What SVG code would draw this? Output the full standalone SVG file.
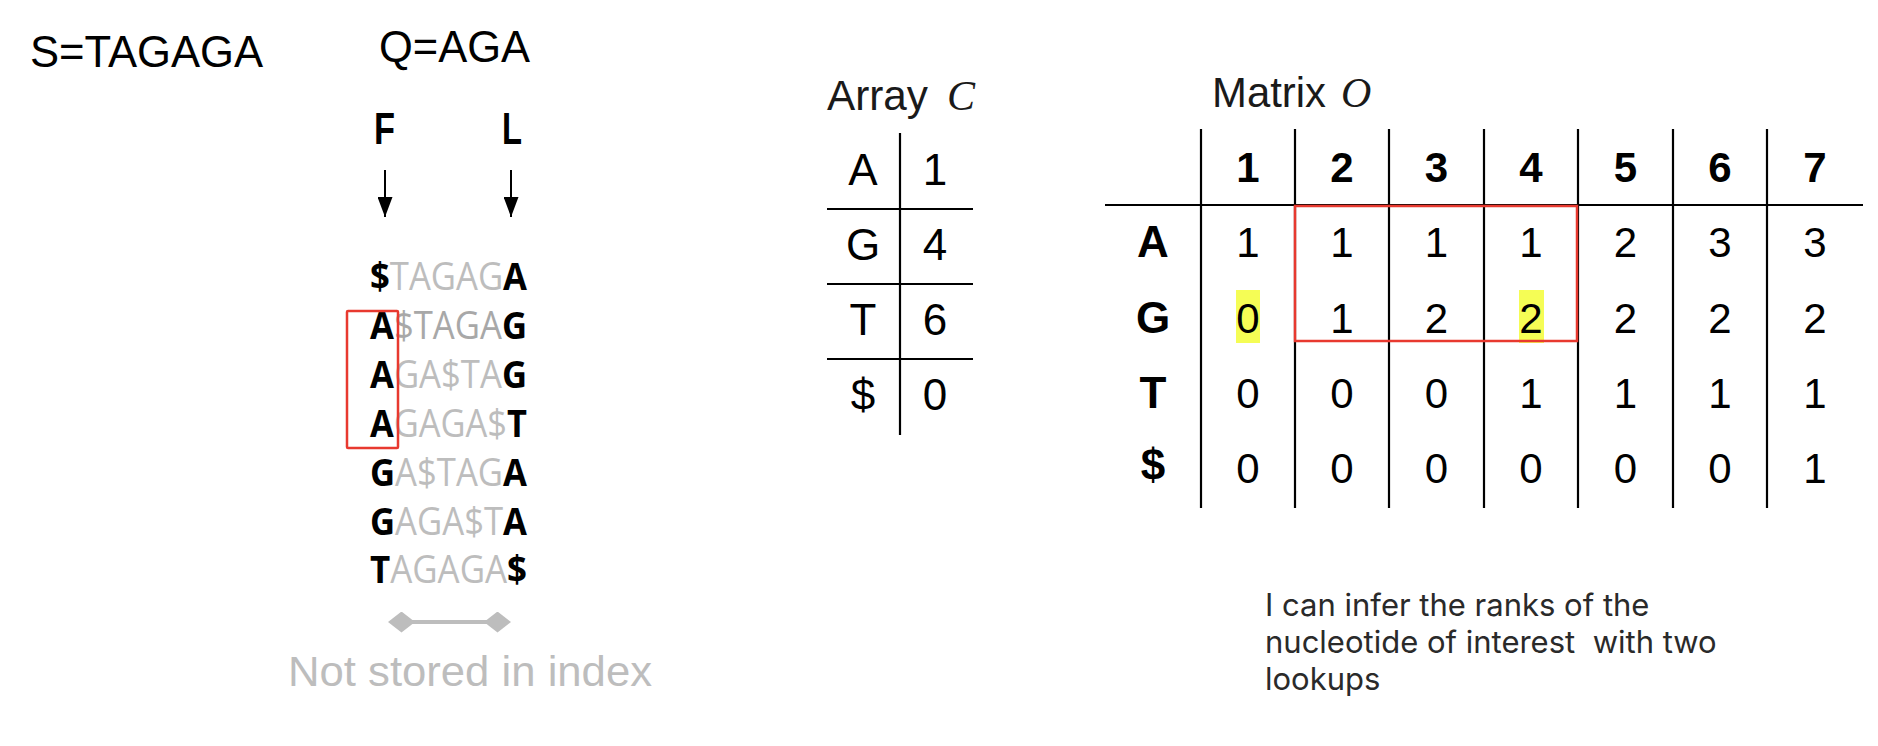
<svg xmlns="http://www.w3.org/2000/svg" width="1878" height="746" viewBox="0 0 1878 746">
<style>
.sans{font-family:"Liberation Sans",Arial,sans-serif;fill:#000}
.big{font-size:44px}
.bold{font-weight:bold}
.bwt{font-family:"Open Sans","Noto Sans",sans-serif;font-size:38px}
.bk{font-weight:bold;fill:#000}
.gr{fill:#bdbdbd}
.gr2{fill:#a8a8a8}
.cell{font-family:"Liberation Sans",Arial,sans-serif;font-size:42px;text-anchor:middle;fill:#000}
.hdr{font-family:"Liberation Sans",Arial,sans-serif;font-size:42px;font-weight:bold;text-anchor:middle;fill:#000}
.rlab{font-family:"Liberation Sans",Arial,sans-serif;font-size:44px;font-weight:bold;text-anchor:middle;fill:#000}
.ac{font-family:"Liberation Sans",Arial,sans-serif;font-size:44px;text-anchor:middle;fill:#000}
.title{font-family:"Liberation Sans",Arial,sans-serif;font-size:42px;fill:#1a1a1a}
.math{font-family:"Liberation Serif",serif;font-style:italic;font-size:42px;fill:#1a1a1a}
.grid{stroke:#000;stroke-width:2.2;fill:none}
.red{stroke:#e8392f;stroke-width:2.5;fill:none}
.hl{fill:#f5fd55}
.note{font-family:Inter,"Noto Sans",sans-serif;font-size:31px;fill:#2a2a2a;white-space:pre}
</style>
<defs>
<marker id="ah" viewBox="0 0 20 15" refX="20" refY="7.5" markerWidth="20" markerHeight="15" markerUnits="userSpaceOnUse" orient="auto">
<path d="M0,0 L20,7.5 L0,15 Z" fill="#000"/>
</marker>
<marker id="dm" viewBox="0 0 27 21" refX="13.5" refY="10.5" markerWidth="27" markerHeight="21" markerUnits="userSpaceOnUse" orient="auto">
<path d="M0,10.5 L13.5,0 L27,10.5 L13.5,21 Z" fill="#bdbdbd"/>
</marker>
</defs>
<rect width="1878" height="746" fill="#fff"/>

<g id="title-s"><text class="sans big" x="30" y="67" textLength="233" lengthAdjust="spacingAndGlyphs">S=TAGAGA</text></g>
<g id="title-q"><text class="sans big" x="379" y="62" textLength="151" lengthAdjust="spacingAndGlyphs">Q=AGA</text></g>
<g id="label-f"><text class="sans big bold" x="374" y="144" textLength="21" lengthAdjust="spacingAndGlyphs">F</text></g>
<g id="label-l"><text class="sans big bold" x="502" y="144" textLength="20" lengthAdjust="spacingAndGlyphs">L</text></g>

<g id="bwt-matrix">
<text class="bwt" x="370" y="290" textLength="157" lengthAdjust="spacingAndGlyphs"><tspan class="bk">$</tspan><tspan class="gr">TAGAG</tspan><tspan class="bk">A</tspan></text>
<text class="bwt" x="370" y="339" textLength="157" lengthAdjust="spacingAndGlyphs"><tspan class="bk">A</tspan><tspan class="gr2">$TAGA</tspan><tspan class="bk">G</tspan></text>
<text class="bwt" x="370" y="388" textLength="157" lengthAdjust="spacingAndGlyphs"><tspan class="bk">A</tspan><tspan class="gr">GA$TA</tspan><tspan class="bk">G</tspan></text>
<text class="bwt" x="370" y="437" textLength="157" lengthAdjust="spacingAndGlyphs"><tspan class="bk">A</tspan><tspan class="gr">GAGA$</tspan><tspan class="bk">T</tspan></text>
<text class="bwt" x="370" y="486" textLength="157" lengthAdjust="spacingAndGlyphs"><tspan class="bk">G</tspan><tspan class="gr">A$TAG</tspan><tspan class="bk">A</tspan></text>
<text class="bwt" x="370" y="535" textLength="157" lengthAdjust="spacingAndGlyphs"><tspan class="bk">G</tspan><tspan class="gr">AGA$T</tspan><tspan class="bk">A</tspan></text>
<text class="bwt" x="370" y="583" textLength="157" lengthAdjust="spacingAndGlyphs"><tspan class="bk">T</tspan><tspan class="gr">AGAGA</tspan><tspan class="bk">$</tspan></text>
<rect class="red" x="347" y="311" width="51" height="137" rx="1"/>
</g>

<g id="not-stored"><text class="sans" x="288" y="686" font-size="43" style="fill:#bdbdbd" textLength="364" lengthAdjust="spacingAndGlyphs">Not stored in index</text></g>

<g id="connectors">
<line x1="385" y1="170" x2="385" y2="217" stroke="#000" stroke-width="2" marker-end="url(#ah)"/>
<line x1="511" y1="170" x2="511" y2="217" stroke="#000" stroke-width="2" marker-end="url(#ah)"/>
<line x1="401.5" y1="622" x2="497.5" y2="622" stroke="#bdbdbd" stroke-width="4" marker-start="url(#dm)" marker-end="url(#dm)"/>
</g>

<g id="array-c">
<text class="title" x="827" y="110" textLength="101" lengthAdjust="spacingAndGlyphs">Array</text>
<text class="math" x="947" y="110">C</text>
<line class="grid" x1="900" y1="133" x2="900" y2="435"/>
<line class="grid" x1="827" y1="209" x2="973" y2="209"/>
<line class="grid" x1="827" y1="284" x2="973" y2="284"/>
<line class="grid" x1="827" y1="359" x2="973" y2="359"/>
<text class="ac" x="863" y="185">A</text><text class="ac" x="935" y="185">1</text>
<text class="ac" x="863" y="260">G</text><text class="ac" x="935" y="260">4</text>
<text class="ac" x="863" y="335">T</text><text class="ac" x="935" y="335">6</text>
<text class="ac" x="863" y="410">$</text><text class="ac" x="935" y="410">0</text>
</g>

<g id="matrix-o">
<text class="title" x="1212" y="107" textLength="114" lengthAdjust="spacingAndGlyphs">Matrix</text>
<text class="math" x="1341" y="107">O</text>
<rect class="hl" x="1236" y="290" width="24" height="53"/>
<rect class="hl" x="1519" y="290" width="25" height="53"/>
<line class="grid" x1="1105" y1="205" x2="1863" y2="205"/>
<line class="grid" x1="1201" y1="129" x2="1201" y2="508"/>
<line class="grid" x1="1295" y1="129" x2="1295" y2="508"/>
<line class="grid" x1="1389" y1="129" x2="1389" y2="508"/>
<line class="grid" x1="1484" y1="129" x2="1484" y2="508"/>
<line class="grid" x1="1578" y1="129" x2="1578" y2="508"/>
<line class="grid" x1="1673" y1="129" x2="1673" y2="508"/>
<line class="grid" x1="1767" y1="129" x2="1767" y2="508"/>
<text class="hdr" x="1248" y="182">1</text>
<text class="hdr" x="1342" y="182">2</text>
<text class="hdr" x="1436.5" y="182">3</text>
<text class="hdr" x="1531" y="182">4</text>
<text class="hdr" x="1625.5" y="182">5</text>
<text class="hdr" x="1720" y="182">6</text>
<text class="hdr" x="1815" y="182">7</text>
<text class="rlab" x="1153" y="257">A</text>
<text class="rlab" x="1153" y="333">G</text>
<text class="rlab" x="1153" y="408">T</text>
<text class="rlab" x="1153" y="480">$</text>
<text class="cell" x="1248" y="257">1</text>
<text class="cell" x="1342" y="257">1</text>
<text class="cell" x="1436.5" y="257">1</text>
<text class="cell" x="1531" y="257">1</text>
<text class="cell" x="1625.5" y="257">2</text>
<text class="cell" x="1720" y="257">3</text>
<text class="cell" x="1815" y="257">3</text>
<text class="cell" x="1248" y="333">0</text>
<text class="cell" x="1342" y="333">1</text>
<text class="cell" x="1436.5" y="333">2</text>
<text class="cell" x="1531" y="333">2</text>
<text class="cell" x="1625.5" y="333">2</text>
<text class="cell" x="1720" y="333">2</text>
<text class="cell" x="1815" y="333">2</text>
<text class="cell" x="1248" y="408">0</text>
<text class="cell" x="1342" y="408">0</text>
<text class="cell" x="1436.5" y="408">0</text>
<text class="cell" x="1531" y="408">1</text>
<text class="cell" x="1625.5" y="408">1</text>
<text class="cell" x="1720" y="408">1</text>
<text class="cell" x="1815" y="408">1</text>
<text class="cell" x="1248" y="483">0</text>
<text class="cell" x="1342" y="483">0</text>
<text class="cell" x="1436.5" y="483">0</text>
<text class="cell" x="1531" y="483">0</text>
<text class="cell" x="1625.5" y="483">0</text>
<text class="cell" x="1720" y="483">0</text>
<text class="cell" x="1815" y="483">1</text>
<rect class="red" x="1295" y="206" width="282" height="135"/>
</g>

<g id="note">
<text class="note" x="1265" y="616">I can infer the ranks of the</text>
<text class="note" x="1265" y="653">nucleotide of interest  with two</text>
<text class="note" x="1265" y="690">lookups</text>
</g>
</svg>
